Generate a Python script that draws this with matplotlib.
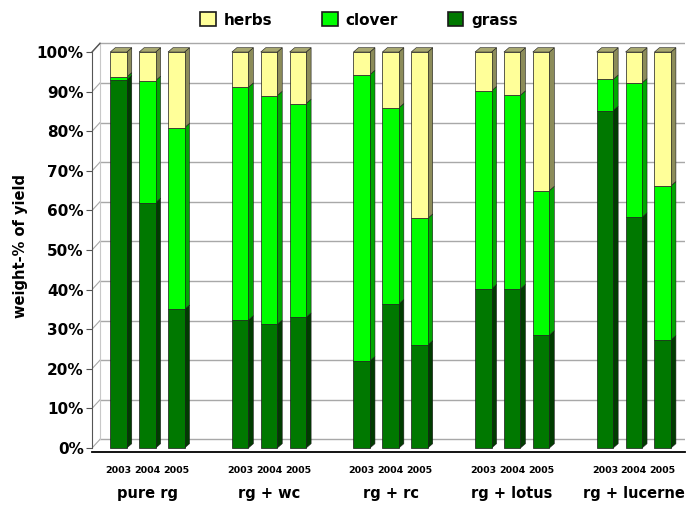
import matplotlib
matplotlib.use('Agg')
import matplotlib.pyplot as plt
from matplotlib.patches import Polygon, Rectangle
import numpy as np

groups = ['pure rg', 'rg + wc', 'rg + rc', 'rg + lotus', 'rg + lucerne']
years = ['2003', '2004', '2005']
grass = np.array([93, 62, 35, 32.3, 31.2, 33, 22, 36.4, 26, 40.2, 40.2, 28.5, 85.2, 58.3, 27.3])
clover_top = np.array([93.7, 92.8, 80.9, 91.1, 89, 87, 94.3, 85.9, 58, 90.2, 89.1, 65, 93.1, 92.2, 66.2])
clover = clover_top - grass
herbs = 100 - clover_top

front = {'grass': '#007800', 'clover': '#00FF00', 'herbs': '#FFFF99'}
side = {'grass': '#003C00', 'clover': '#00A800', 'herbs': '#8C8C5A'}
top_c = {'grass': '#005A00', 'clover': '#30D030', 'herbs': '#A8A870'}

fig = plt.figure(figsize=(6.91, 5.13), dpi=100)
ax = fig.add_axes([92 / 691, 61 / 513, 593 / 691, 412 / 513])
unit = 30.4
x0 = -26.5 / unit
ax.set_xlim(x0, x0 + 593 / unit)
ax.set_ylim(-1, -1 + 412 / 3.96)

xs = np.array([i * 4 + j * 0.95 for i in range(len(groups)) for j in range(len(years))])
w = 16.5 / unit
dx = 5 / unit
dy = 1.1
wall_dx = 8 / unit
wall_dy = 2.2

# back wall grid
for v in range(0, 101, 10):
    ax.plot([x0 + wall_dx, ax.get_xlim()[1]], [v + wall_dy, v + wall_dy], color='#a8a8a8', lw=1.0, zorder=1)
    ax.plot([x0, x0 + wall_dx], [v, v + wall_dy], color='#a8a8a8', lw=0.8, zorder=1)
ax.plot([x0 + wall_dx, x0 + wall_dx], [wall_dy, 100 + wall_dy], color='#c8c8c8', lw=0.8, zorder=1)
ax.plot([x0, x0 + wall_dx], [100, 100 + wall_dy], color='#555555', lw=1.0, zorder=1, clip_on=False)

series = [('grass', grass), ('clover', clover), ('herbs', herbs)]
bottoms = np.zeros(len(xs))
for name, vals in series:
    ax.bar(xs, vals, width=w, bottom=bottoms, color=front[name], edgecolor='#1a1a1a', linewidth=0.5, zorder=3)
    for k in range(len(xs)):
        xr = xs[k] + w / 2
        b = bottoms[k]
        t = b + vals[k]
        ax.add_patch(Polygon([(xr, b), (xr + dx, b + dy), (xr + dx, t + dy), (xr, t)], closed=True,
                             facecolor=side[name], edgecolor='#1a1a1a', linewidth=0.4, zorder=2.5))
    bottoms = bottoms + vals
for k in range(len(xs)):
    xl = xs[k] - w / 2
    xr = xs[k] + w / 2
    ax.add_patch(Polygon([(xl, 100), (xr, 100), (xr + dx, 100 + dy), (xl + dx, 100 + dy)], closed=True,
                         facecolor=top_c['herbs'], edgecolor='#1a1a1a', linewidth=0.4, zorder=3.5))

for s in ['top', 'right']:
    ax.spines[s].set_visible(False)
ax.spines['left'].set_bounds(0, 100)
ax.spines['left'].set_color('#555555')
ax.spines['bottom'].set_color('black')
ax.spines['bottom'].set_linewidth(1.3)

ax.set_yticks(range(0, 101, 10))
ax.set_yticklabels([f'{v}%' for v in range(0, 101, 10)], fontsize=11, fontweight='bold')
ax.tick_params(axis='y', length=4, width=0.8, color='#555555', pad=2)
ax.set_xticks(xs)
ax.set_xticklabels(years * len(groups), fontsize=6.8, fontweight='bold')
ax.tick_params(axis='x', length=0, pad=10)

for i, g in enumerate(groups):
    ax.text(i * 4 + 0.95, -11.5, g, ha='center', va='center', fontsize=10.5, fontweight='bold')

ax.set_ylabel('weight-% of yield', fontsize=10.5, fontweight='bold', labelpad=6)

handles = [Rectangle((0, 0), 1, 1, facecolor=front[n], edgecolor='#1a1a1a', linewidth=1.2) for n in ['herbs', 'clover', 'grass']]
fig.legend(handles, ['herbs', 'clover', 'grass'], loc='center', bbox_to_anchor=(359 / 691, 1 - 20 / 513), ncol=3,
           frameon=False, handlelength=1.0, handleheight=1.0, handletextpad=0.5, columnspacing=3.3,
           prop={'size': 11, 'weight': 'bold'})

fig.savefig('out.png', dpi=100)
